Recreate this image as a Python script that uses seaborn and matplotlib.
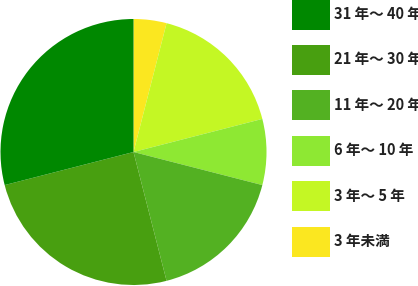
import matplotlib
matplotlib.use("Agg")
import matplotlib.pyplot as plt
import seaborn as sns
from matplotlib.patches import Patch

sns.set_theme(style="white")
plt.rcParams['font.family'] = ['Noto Sans CJK JP', 'DejaVu Sans']

categories = ["3 年未満", "3 年～ 5 年", "6 年～ 10 年", "11 年～ 20 年", "21 年～ 30 年", "31 年～ 40 年"]
values = [4, 17, 8, 17, 25, 29]
colors = ["#fbe720", "#c4f724", "#8ee833", "#53b122", "#489f10", "#008800"]

fig = plt.figure(figsize=(4.18, 2.86), dpi=100)
ax = fig.add_axes([0.5 / 418, 1 / 286, 266 / 418, 266 / 286])
wedges, _ = ax.pie(values, colors=colors, startangle=90, counterclock=False,
                   wedgeprops=dict(linewidth=0))
ax.set_xlim(-1, 1)
ax.set_ylim(-1, 1)
ax.set_aspect('equal')
ax.axis('off')

handles = [Patch(facecolor=c, edgecolor='none') for c in colors][::-1]
labels = categories[::-1]
fs = 10.5
px = fs * 100 / 72
sq_h, sq_w, pitch = 30.0, 38.0, 45.5
hh = (sq_h / px - 0.245) / 0.65
leg = fig.legend(handles, labels, loc='upper left',
                 bbox_to_anchor=(291.5 / 418, 1.0 + 0.5 / 286),
                 bbox_transform=fig.transFigure,
                 frameon=False, prop=dict(weight='bold', size=fs),
                 handlelength=sq_w / px, handleheight=hh,
                 labelspacing=(pitch - sq_h) / px, handletextpad=4 / px,
                 borderpad=0, borderaxespad=0)
for t in leg.get_texts():
    t.set_color('#222222')

fig.savefig("out.png", dpi=100)
